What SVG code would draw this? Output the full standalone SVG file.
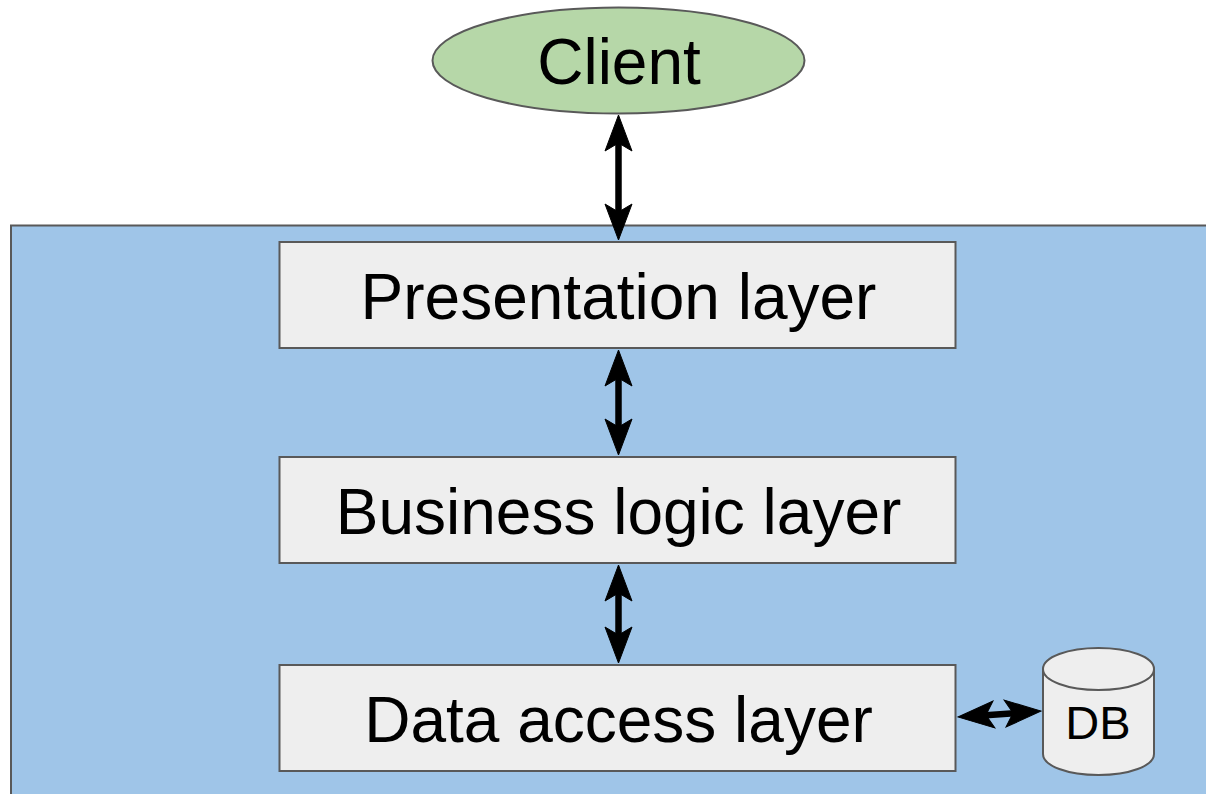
<svg xmlns="http://www.w3.org/2000/svg" width="1206" height="794" viewBox="0 0 1206 794">
<style>
text{font-family:"Liberation Sans",Arial,sans-serif;fill:#000;text-anchor:middle}
.s{stroke:#595959;stroke-width:2}
.box{fill:#eeeeee}
.l{font-size:64px}
.c{stroke:#000;stroke-width:6.500;fill:none}
.h{fill:#000;stroke:#000;stroke-width:1;stroke-linejoin:miter}
</style>
<defs>
<polygon id="up" class="h" points="0,1 13.500,37 0,29 -13.500,37"/>
</defs>
<rect width="1206" height="794" fill="#fff"/>
<g id="container"><path class="s" fill="#9fc5e8" d="M1207 225.500H11V795H1207Z"/></g>
<g id="client"><ellipse class="s" fill="#b6d7a8" cx="618.500" cy="60.500" rx="186" ry="53"/><text class="l" x="619" y="84">Client</text></g>
<g id="presentation"><rect class="s box" x="279.500" y="242" width="676" height="106"/><text class="l" x="618.500" y="319">Presentation layer</text></g>
<g id="business"><rect class="s box" x="279.500" y="457" width="676" height="106"/><text class="l" x="618.500" y="534">Business logic layer</text></g>
<g id="data"><rect class="s box" x="279.500" y="665" width="676" height="106"/><text class="l" x="618.500" y="742">Data access layer</text></g>
<g id="db"><path class="s box" d="M1043 669C1043 657 1068 648 1098.500 648S1154 657 1154 669V754C1154 766 1129 775 1098.500 775S1043 766 1043 754Z"/><path class="s" fill="none" d="M1043 669C1043 681 1068 690 1098.500 690S1154 681 1154 669"/><text x="1098" y="739" font-size="47">DB</text></g>
<g id="connectors">
<path class="c" d="M618.500 130V225"/><use href="#up" x="618.500" y="114"/><use href="#up" transform="translate(618.500 241) rotate(180)"/>
<path class="c" d="M618.500 365V440"/><use href="#up" x="618.500" y="349"/><use href="#up" transform="translate(618.500 456) rotate(180)"/>
<path class="c" d="M618.500 580V648"/><use href="#up" x="618.500" y="564"/><use href="#up" transform="translate(618.500 664) rotate(180)"/>
<path class="c" d="M975 716L1025 712.500"/><use href="#up" transform="translate(957 717) rotate(-94)"/><use href="#up" transform="translate(1042 711) rotate(86)"/>
</g>
</svg>
